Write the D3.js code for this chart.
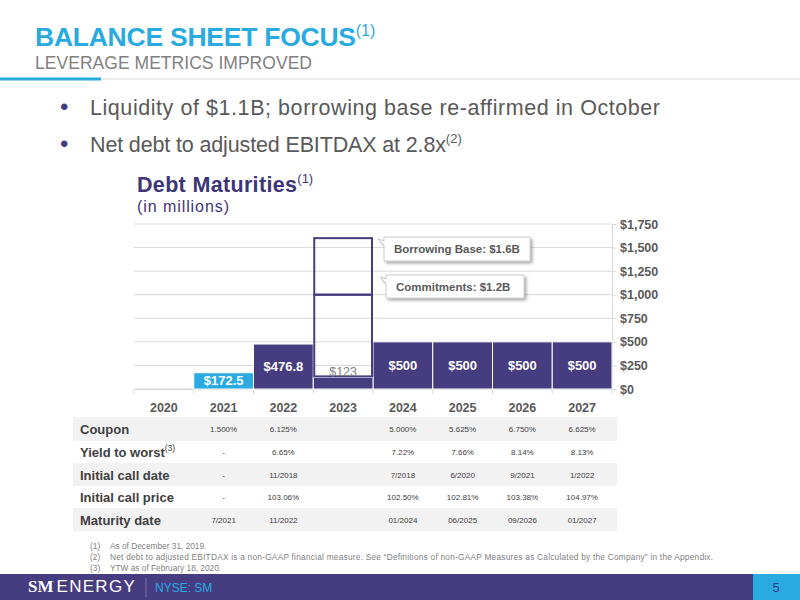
<!DOCTYPE html>
<html><head><meta charset="utf-8">
<script src="https://cdn.jsdelivr.net/npm/d3@7"></script>
<style>body{margin:0;background:#fff}svg{display:block;font-family:"Liberation Sans",Arial,sans-serif}</style>
</head><body><svg id="c" width="800" height="600"></svg>
<script>
const years = ["2020","2021","2022","2023","2024","2025","2026","2027"];
const notes = [null, 172.5, 476.8, null, 500, 500, 500, 500];
const noteLabels = ["", "$172.5", "$476.8", "", "$500", "$500", "$500", "$500"];
const revolverYear = "2023";
const revolverDrawn = 123;
const commitmentLine = 1000;
const borrowingBase = 1600;
const yTicks = [0,250,500,750,1000,1250,1500,1750];
const rowLabels = ["Coupon","Yield to worst","Initial call date","Initial call price","Maturity date"];
const coupon = ["", "1.500%", "6.125%", "", "5.000%", "5.625%", "6.750%", "6.625%"];
const ytw = ["", "-", "6.65%", "", "7.22%", "7.66%", "8.14%", "8.13%"];
const callDate = ["", "-", "11/2018", "", "7/2018", "6/2020", "9/2021", "1/2022"];
const callPrice = ["", "-", "103.06%", "", "102.50%", "102.81%", "103.38%", "104.97%"];
const maturity = ["", "7/2021", "11/2022", "", "01/2024", "06/2025", "09/2026", "01/2027"];
const footnotes = ["As of December 31, 2019.",
 "Net debt to adjusted EBITDAX is a non-GAAP financial measure. See \u201cDefinitions of non-GAAP Measures as Calculated by the Company\u201d in the Appendix.",
 "YTW as of February 18, 2020."];

const svg = d3.select("#c");
const purple = "#463c80", blue = "#29abe2", gray = "#595959";

// Header
const t = svg.append("text").attr("x",35).attr("y",46).attr("fill",blue).attr("font-size",26.5).attr("font-weight","bold");
t.append("tspan").attr("textLength",321).text("BALANCE SHEET FOCUS");
t.append("tspan").attr("font-size",16).attr("font-weight","normal").attr("dy",-10).text("(1)");
svg.append("text").attr("x",35).attr("y",69).attr("fill","#7f7f7f").attr("font-size",17.5).attr("textLength",277).text("LEVERAGE METRICS IMPROVED");
svg.append("line").attr("x1",0).attr("x2",800).attr("y1",79).attr("y2",79).attr("stroke","#d9d9d9").attr("stroke-width",1);
svg.append("rect").attr("x",0).attr("y",77.5).attr("width",101).attr("height",3).attr("fill",blue);

// bullets
const bullets = [["Liquidity of $1.1B; borrowing base re-affirmed in October","",570],["Net debt to adjusted EBITDAX at 2.8x","(2)",356]];
bullets.forEach((b,i)=>{
  const y = 115 + i*37;
  svg.append("text").attr("x",60).attr("y",y).attr("fill",purple).attr("font-size",24).text("\u2022");
  const tx = svg.append("text").attr("x",90).attr("y",y).attr("fill",gray).attr("font-size",21.5);
  tx.append("tspan").attr("textLength",b[2]).text(b[0]);
  if(b[1]) tx.append("tspan").attr("font-size",13).attr("dy",-9).text(b[1]);
});

// chart title
const ct = svg.append("text").attr("x",137).attr("y",192).attr("fill","#3d3577").attr("font-size",21.5).attr("font-weight","bold");
ct.append("tspan").attr("textLength",160).text("Debt Maturities");
ct.append("tspan").attr("font-size",13).attr("font-weight","normal").attr("dy",-9).text("(1)");
svg.append("text").attr("x",137).attr("y",212).attr("fill","#3d3577").attr("font-size",16).attr("textLength",92).text("(in millions)");

// scales
const x = d3.scaleBand().domain(years).range([134,612]).padding(0);
const y = d3.scaleLinear().domain([0,1750]).range([389,224]);

// grid
svg.append("g").selectAll("line").data(yTicks).join("line")
  .attr("x1",134).attr("x2",612).attr("y1",d=>y(d)).attr("y2",d=>y(d))
  .attr("stroke","#d9d9d9").attr("stroke-width",1);

// right axis
const ax = svg.append("g").attr("transform","translate(612,0)")
  .call(d3.axisRight(y).tickValues(yTicks).tickSize(4).tickFormat(d=>"$"+d3.format(",")(d)));
ax.select(".domain").attr("stroke","#d9d9d9");
ax.selectAll(".tick line").attr("stroke","#d9d9d9");
ax.selectAll("text").attr("fill",gray).attr("font-size",12.5).attr("font-weight","bold").attr("x",8).attr("font-family","Liberation Sans, Arial, sans-serif");

// bottom axis
const bx = svg.append("g").attr("transform","translate(0,389)")
  .call(d3.axisBottom(x).tickSize(0).tickPadding(14));
bx.select(".domain").attr("stroke","#d9d9d9");
bx.selectAll("text").attr("fill",gray).attr("font-size",12.5).attr("font-weight","bold").attr("font-family","Liberation Sans, Arial, sans-serif");
svg.append("g").selectAll("line").data(years.concat(["end"])).join("line")
  .attr("x1",(d,i)=>134+i*x.bandwidth()).attr("x2",(d,i)=>134+i*x.bandwidth())
  .attr("y1",389).attr("y2",394).attr("stroke","#d9d9d9");

// bars
const barData = years.map((yr,i)=>({yr, v:notes[i], lab:noteLabels[i]})).filter(d=>d.v!=null);
svg.append("g").selectAll("rect").data(barData).join("rect")
  .attr("x",d=>x(d.yr)).attr("width",x.bandwidth())
  .attr("y",d=>y(d.v)).attr("height",d=>y(0)-y(d.v))
  .attr("fill",d=>d.yr==="2021"?blue:purple).attr("stroke","#fff").attr("stroke-width",1);
svg.append("g").selectAll("text").data(barData).join("text")
  .attr("x",d=>x(d.yr)+x.bandwidth()/2).attr("y",d=>(y(d.v)+y(0))/2+4.5)
  .attr("text-anchor","middle").attr("fill","#fff").attr("font-size",13).attr("font-weight","bold").text(d=>d.lab);

// revolver
const rx = x(revolverYear), bw = x.bandwidth();
svg.append("rect").attr("x",rx).attr("y",y(revolverDrawn)).attr("width",bw).attr("height",y(0)-y(revolverDrawn))
  .attr("fill",purple).attr("stroke","#fff").attr("stroke-width",1);
svg.append("rect").attr("x",rx+1).attr("y",y(commitmentLine)).attr("width",bw-2).attr("height",y(revolverDrawn)-y(commitmentLine)-1)
  .attr("fill","none").attr("stroke",purple).attr("stroke-width",2);
svg.append("rect").attr("x",rx+1).attr("y",y(borrowingBase)).attr("width",bw-2).attr("height",y(commitmentLine)-y(borrowingBase))
  .attr("fill","none").attr("stroke",purple).attr("stroke-width",2);
svg.append("text").attr("x",rx+bw/2).attr("y",y(revolverDrawn)-1).attr("text-anchor","middle")
  .attr("fill","#7f7f7f").attr("font-size",12.5).text("$"+revolverDrawn);

// callouts
const defs = svg.append("defs");
const f = defs.append("filter").attr("id","sh").attr("x","-10%").attr("y","-20%").attr("width","130%").attr("height","160%");
f.append("feDropShadow").attr("dx",2).attr("dy",2).attr("stdDeviation",1.5).attr("flood-color","#000").attr("flood-opacity",0.35);
function callout(x0,y0,w,h,text){
  const p = `M${x0},${y0} L${x0+w},${y0} L${x0+w},${y0+h} L${x0},${y0+h} L${x0},${y0+8} L${x0-6},${y0+2} L${x0},${y0+4} Z`;
  svg.append("path").attr("d",p).attr("fill","#fff").attr("stroke","#bfbfbf").attr("stroke-width",0.8).attr("filter","url(#sh)");
  svg.append("text").attr("x",x0+10).attr("y",y0+h/2+4).attr("fill",gray).attr("font-size",11.5).attr("font-weight","bold").text(text);
}
callout(384,237,146,24,"Borrowing Base: $1.6B");
callout(386,275,138,23,"Commitments: $1.2B");

// table
const rows = [coupon, ytw, callDate, callPrice, maturity];
const rowTop = [417,441,463,486,508], rowH = [24,22,23,22,23];
rows.forEach((r,i)=>{
  if(i%2===0) svg.append("rect").attr("x",73).attr("y",rowTop[i]).attr("width",544).attr("height",rowH[i]).attr("fill","#f2f2f2");
  const cy = rowTop[i]+rowH[i]/2;
  const lt = svg.append("text").attr("x",80).attr("y",cy+5).attr("fill","#404040").attr("font-size",13).attr("font-weight","bold");
  lt.append("tspan").text(rowLabels[i]);
  if(i===1) lt.append("tspan").attr("font-size",8.5).attr("font-weight","normal").attr("dy",-6).text("(3)");
  svg.append("g").selectAll("text").data(years.map((yr,j)=>({yr,v:r[j]}))).join("text")
    .attr("x",d=>x(d.yr)+bw/2).attr("y",cy+3).attr("text-anchor","middle")
    .attr("fill","#404040").attr("font-size",8).text(d=>d.v);
});

// footnotes
footnotes.forEach((n,i)=>{
  const yy = 549 + i*10.8;
  svg.append("text").attr("x",90).attr("y",yy).attr("fill","#7f7f7f").attr("font-size",8.3).text(`(${i+1})`);
  svg.append("text").attr("x",110).attr("y",yy).attr("fill","#7f7f7f").attr("font-size",8.3).attr("textLength",i===1?603:null).text(n);
});

// footer
svg.append("rect").attr("x",0).attr("y",574).attr("width",800).attr("height",26).attr("fill",purple);
svg.append("rect").attr("x",753).attr("y",574).attr("width",47).attr("height",26).attr("fill",blue);
svg.append("text").attr("x",776).attr("y",592).attr("text-anchor","middle").attr("fill","#2d3f8c").attr("font-size",13).text("5");
const lg = svg.append("text").attr("x",28).attr("y",592).attr("fill","#fff").attr("font-size",17);
lg.append("tspan").attr("font-weight","bold").attr("font-family","Liberation Serif, serif").text("SM");
lg.append("tspan").attr("dx",3).attr("letter-spacing",1.3).text("ENERGY");
svg.append("line").attr("x1",146).attr("x2",146).attr("y1",578).attr("y2",597).attr("stroke","#7a70b0").attr("stroke-width",1);
svg.append("text").attr("x",155).attr("y",592).attr("fill",blue).attr("font-size",12).text("NYSE: SM");
</script></body></html>
